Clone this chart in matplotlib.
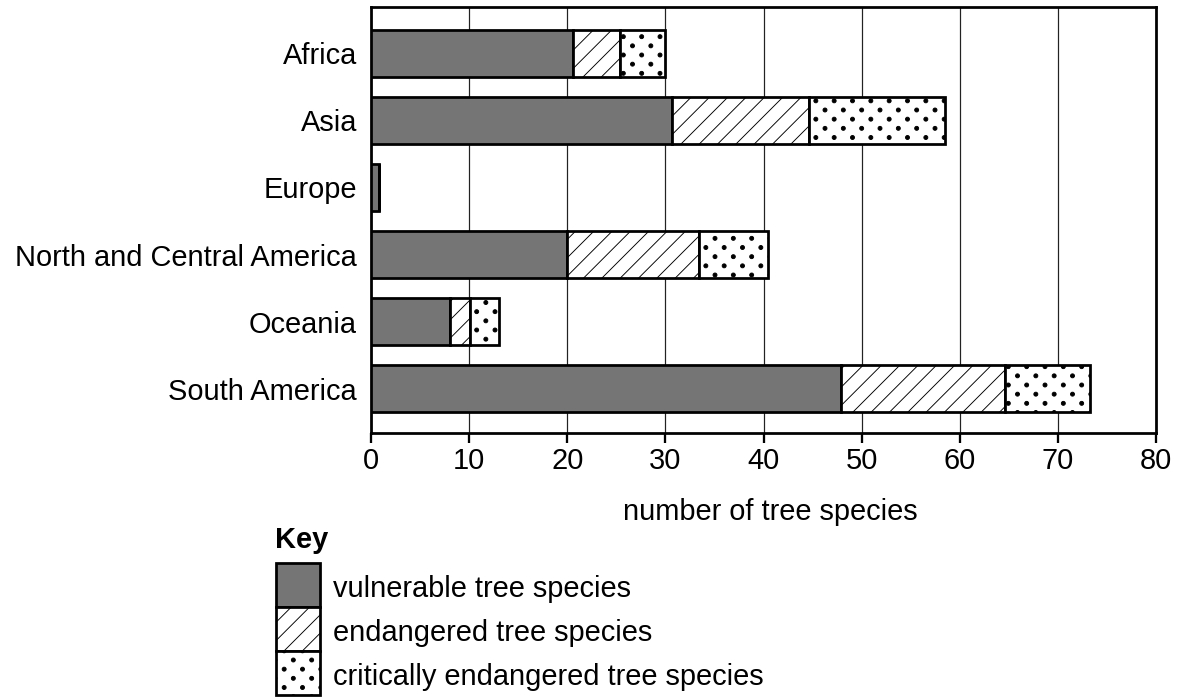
import matplotlib
matplotlib.use('Agg')
import matplotlib.pyplot as plt
import matplotlib.hatch as mhatch
from matplotlib.path import Path
from matplotlib.patches import Rectangle
from matplotlib.legend_handler import HandlerPatch

# ---------------- data ----------------
regions = ['Africa', 'Asia', 'Europe', 'North and Central America',
           'Oceania', 'South America']
vulnerable = [20.6, 30.7, 0.8, 20.0, 8.0, 47.9]
endangered = [4.75, 13.9, 0.0, 13.4, 2.1, 16.7]
critically = [4.65, 13.9, 0.0, 7.1, 2.9, 8.7]
series_labels = ['vulnerable tree species', 'endangered tree species',
                 'critically endangered tree species']
x_ticks = [0, 10, 20, 30, 40, 50, 60, 70, 80]
x_label = 'number of tree species'
key_title = 'Key'


# ------------- custom dotted hatch (staggered dots) -------------
class StaggeredDots(mhatch.HatchPatternBase):
    def __init__(self, hatch, density):
        n = hatch.count('.')
        circ = Path.unit_circle()
        self.shape_vertices = circ.vertices
        self.shape_codes = circ.codes
        self.pts = []
        if n == 0:
            self.num_vertices = 0
            return
        ncols, nrows = 6, 12
        for r in range(nrows + 1):
            y = r / nrows
            if r % 2 == 0:
                xs = [c / ncols for c in range(ncols + 1)]
            else:
                xs = [(c + 0.5) / ncols for c in range(ncols)]
            self.pts += [(x, y) for x in xs]
        self.num_vertices = len(self.pts) * len(self.shape_vertices)

    def set_vertices_and_codes(self, vertices, codes):
        sv = self.shape_vertices * 0.018
        k = len(sv)
        cur = 0
        for (x, y) in self.pts:
            vertices[cur:cur + k] = sv + (x, y)
            codes[cur:cur + k] = self.shape_codes
            cur += k


for i, h in enumerate(mhatch._hatch_types):
    if h is mhatch.SmallFilledCircles:
        mhatch._hatch_types[i] = StaggeredDots

# ---------------- style ----------------
DPI = 110
W, H = 1182, 699
FS = 19
PX = 72 / DPI  # points per pixel
plt.rcParams['font.family'] = ['Liberation Sans', 'DejaVu Sans']
plt.rcParams['hatch.color'] = 'black'
plt.rcParams['hatch.linewidth'] = 0.6

AX_L, AX_R, AX_T, AX_B = 371, 1156, 7, 433
fig = plt.figure(figsize=(W / DPI, H / DPI), dpi=DPI)
ax = fig.add_axes([AX_L / W, 1 - AX_B / H, (AX_R - AX_L) / W,
                   (AX_B - AX_T) / H])

ypos = list(range(len(regions)))
edge_lw = 1.8
bar_h = 0.70

left2 = [a for a in vulnerable]
left3 = [a + b for a, b in zip(vulnerable, endangered)]
b1 = ax.barh(ypos, vulnerable, height=bar_h, color='#757575',
             edgecolor='black', linewidth=edge_lw, label=series_labels[0],
             zorder=3)
b2 = ax.barh(ypos, endangered, left=left2, height=bar_h, color='white',
             edgecolor='black', linewidth=edge_lw, hatch='//',
             label=series_labels[1], zorder=3)
b3 = ax.barh(ypos, critically, left=left3, height=bar_h, color='white',
             edgecolor='black', linewidth=edge_lw, hatch='.',
             label=series_labels[2], zorder=3)

ax.set_xlim(0, 80)
ax.set_ylim(5.66, -0.69)
ax.set_xticks(x_ticks)
ax.set_xticklabels([str(t) for t in x_ticks], fontsize=FS)
ax.set_yticks(ypos)
ax.set_yticklabels(regions, fontsize=FS)
ax.tick_params(axis='y', length=0, pad=14 * PX)
ax.tick_params(axis='x', length=10 * PX, width=1.5, pad=4 * PX,
               direction='out')
ax.grid(axis='x', color='#222222', linewidth=0.8, zorder=0)
ax.set_axisbelow(True)
for s in ax.spines.values():
    s.set_linewidth(1.8)
    s.set_color('black')

ax.set_xlabel(x_label, fontsize=FS)
ax.xaxis.set_label_coords((770 - AX_L) / (AX_R - AX_L),
                          -(520.5 - AX_B) / (AX_B - AX_T))
ax.xaxis.label.set_verticalalignment('baseline')

fig.text(275 / W, 1 - 548 / H, key_title, fontsize=FS, fontweight='bold',
         ha='left', va='baseline')

SHIFT = 2.8 * PX


def box_patch(legend, orig_handle, xdescent, ydescent, width, height,
              fontsize):
    return Rectangle(xy=(-xdescent, -ydescent + SHIFT), width=width,
                     height=height)


fig.legend(handles=[b1.patches[0], b2.patches[0], b3.patches[0]],
           labels=series_labels,
           handler_map={Rectangle: HandlerPatch(patch_func=box_patch)},
           loc='upper left', bbox_to_anchor=(276 / W, 1 - (563 + 2.8) / H),
           frameon=False, fontsize=FS, labelspacing=0.0,
           handlelength=44 / 29, handleheight=1.957, handletextpad=0.45,
           borderpad=0, borderaxespad=0)

fig.savefig('out.png', dpi=DPI)
